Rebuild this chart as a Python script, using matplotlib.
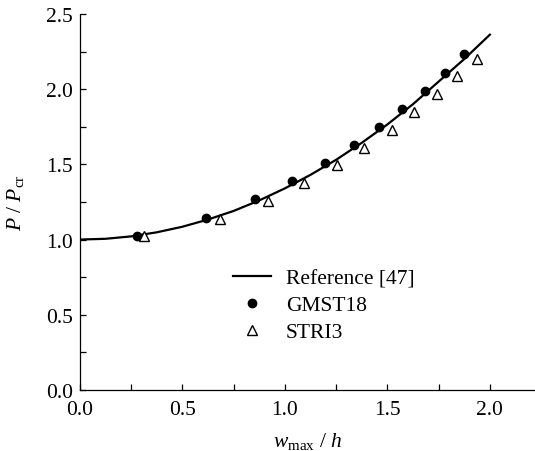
import matplotlib
matplotlib.use("Agg")
import matplotlib.pyplot as plt
from matplotlib.ticker import MultipleLocator, FormatStrFormatter

plt.rcParams['font.family'] = ['Liberation Serif', 'DejaVu Serif']
plt.rcParams['mathtext.fontset'] = 'custom'
plt.rcParams['mathtext.rm'] = 'Liberation Serif'
plt.rcParams['mathtext.it'] = 'Liberation Serif:italic'

# Reference [47] curve
ref_x = [0.0, 0.125, 0.25, 0.375, 0.5, 0.625, 0.75, 0.875, 1.0, 1.125,
         1.25, 1.375, 1.5, 1.625, 1.75, 1.875, 2.0]
ref_y = [1.0, 1.005, 1.021, 1.048, 1.085, 1.133, 1.19, 1.26, 1.34, 1.43,
         1.53, 1.643, 1.765, 1.90, 2.05, 2.20, 2.362]

# GMST18
gm_x = [0.277, 0.615, 0.855, 1.035, 1.198, 1.335, 1.457, 1.573, 1.682, 1.782, 1.873]
gm_y = [1.022, 1.144, 1.268, 1.392, 1.512, 1.629, 1.746, 1.866, 1.990, 2.110, 2.234]

# STRI3
st_x = [0.315, 0.682, 0.918, 1.093, 1.255, 1.388, 1.522, 1.632, 1.740, 1.840, 1.937]
st_y = [1.022, 1.137, 1.257, 1.374, 1.496, 1.607, 1.729, 1.846, 1.968, 2.088, 2.201]

FS = 15.5

fig = plt.figure(figsize=(5.35, 4.52), dpi=100)
ax = fig.add_axes([0.149, 0.135, 0.851, 0.832])

ax.plot(ref_x, ref_y, color='black', lw=1.6, label='Reference [47]')
ax.plot(gm_x, gm_y, ls='none', marker='o', ms=6, color='black', label='GMST18')
ax.plot(st_x, st_y, ls='none', marker='^', ms=7, mfc='white', mec='black',
        mew=1.0, label='STRI3')

ax.set_xlim(0, 2.22)
ax.set_ylim(0, 2.5)
ax.xaxis.set_major_locator(MultipleLocator(0.5))
ax.xaxis.set_minor_locator(MultipleLocator(0.25))
ax.yaxis.set_major_locator(MultipleLocator(0.5))
ax.yaxis.set_minor_locator(MultipleLocator(0.25))
ax.xaxis.set_major_formatter(FormatStrFormatter('%.1f'))
ax.yaxis.set_major_formatter(FormatStrFormatter('%.1f'))

for s in ['top', 'right']:
    ax.spines[s].set_visible(False)
for s in ['left', 'bottom']:
    ax.spines[s].set_linewidth(0.9)

ax.tick_params(which='both', direction='in', length=4, width=0.9, labelsize=FS)
ax.tick_params(axis='x', which='major', pad=7)
ax.tick_params(axis='y', which='major', pad=5)

ax.set_xlabel(r'$w_{\mathrm{max}}$ / $h$', fontsize=FS, labelpad=8)
ax.set_ylabel(r'$P$ / $P_{\mathrm{cr}}$', fontsize=FS, labelpad=14)

leg = ax.legend(loc='upper left', bbox_to_anchor=(0.337, 0.324), frameon=False,
                fontsize=FS, handlelength=1.75, handletextpad=0.7,
                labelspacing=0.32, borderaxespad=0, borderpad=0, markerscale=1.0)

fig.savefig('out.png', dpi=100)
